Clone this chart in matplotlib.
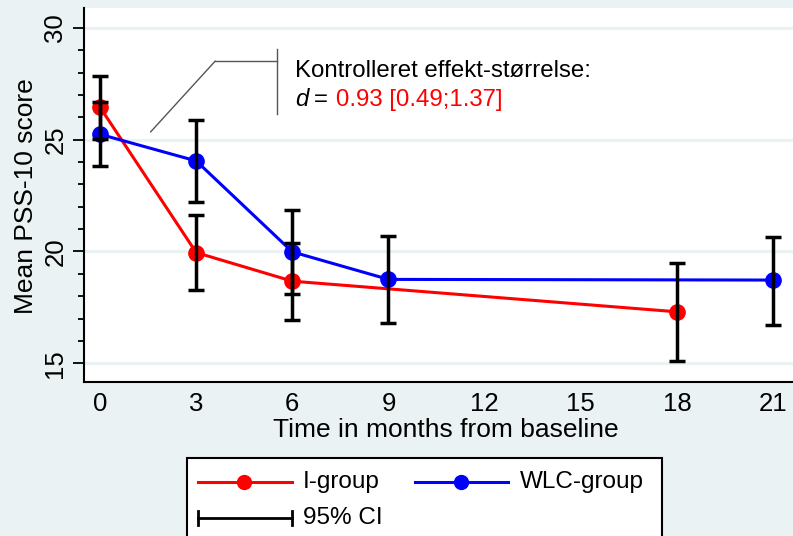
import matplotlib
matplotlib.use("Agg")
import matplotlib.pyplot as plt
from matplotlib.lines import Line2D
from matplotlib.patches import Rectangle

plt.rcParams['font.family'] = ['Liberation Sans', 'DejaVu Sans']

# ---- data ----
i_months = [0, 3, 6, 18]
i_mean = [26.45, 19.95, 18.67, 17.30]
i_lo = [25.03, 18.26, 16.93, 15.12]
i_hi = [27.87, 21.63, 20.37, 19.50]

w_months = [0, 3, 6, 9, 21]
w_mean = [25.24, 24.05, 19.98, 18.75, 18.72]
w_lo = [23.80, 22.20, 18.08, 16.78, 16.72]
w_hi = [26.67, 25.90, 21.87, 20.67, 20.65]

x_ticks = [0, 3, 6, 9, 12, 15, 18, 21]
y_ticks = [15, 20, 25, 30]
y_minor = list(range(15, 31))

RED = '#FF0000'
BLUE = '#0000FF'
BG = '#EAF2F3'

W, H = 793, 536
fig = plt.figure(figsize=(W / 100, H / 100), dpi=100, facecolor=BG)
ax = fig.add_axes([84 / W, (H - 382) / H, (W - 84) / W, (382 - 8) / H])
ax.set_facecolor('white')
ax.set_xlim(-0.5, 21.62)
ax.set_ylim(14.16, 30.89)

for s in ['top', 'right']:
    ax.spines[s].set_visible(False)
for s in ['left', 'bottom']:
    ax.spines[s].set_linewidth(1.5)
    ax.spines[s].set_color('black')

for yv in y_ticks:
    ax.axhline(yv, color=BG, lw=2.2, zorder=0.5)

ax.plot(i_months, i_mean, color=RED, lw=2.2, zorder=2)
ax.plot(w_months, w_mean, color=BLUE, lw=2.2, zorder=2)
ax.plot(i_months, i_mean, 'o', color=RED, ms=11, zorder=3)
ax.plot(w_months, w_mean, 'o', color=BLUE, ms=11, zorder=3)

def errs(m, lo, hi):
    return [[a - b for a, b in zip(m, lo)], [c - a for a, c in zip(m, hi)]]

for xs, m, lo, hi in [(i_months, i_mean, i_lo, i_hi), (w_months, w_mean, w_lo, w_hi)]:
    ax.errorbar(xs, m, yerr=errs(m, lo, hi), fmt='none', ecolor='black',
                elinewidth=2.5, capsize=5.8, capthick=2.5, zorder=4)

ax.set_xticks(x_ticks)
ax.set_xticklabels([str(v) for v in x_ticks], fontsize=18.5)
ax.tick_params(axis='x', length=0, pad=7)
ax.set_yticks(y_ticks)
ax.set_yticklabels([str(v) for v in y_ticks], fontsize=18.5, rotation=90, va='center')
ax.set_yticks(y_minor, minor=True)
ax.tick_params(axis='y', which='major', length=8, width=1.3, pad=4)
ax.tick_params(axis='y', which='minor', length=4.3, width=1.3)

ax.set_xlabel('Time in months from baseline', fontsize=19)
ax.xaxis.set_label_coords((445.5 - 84) / (W - 84), -0.095)
ax.set_ylabel('Mean PSS-10 score', fontsize=19)
ax.yaxis.set_label_coords(-(84 - 38) / (W - 84), (382 - 196.5) / (382 - 8))

# annotation callout
GRAY = '#555555'
ax.plot([5.51, 5.51], [26.17, 29.04], color=GRAY, lw=1, zorder=1)
ax.plot([3.59, 5.51], [28.51, 28.51], color=GRAY, lw=1, zorder=1)
ax.plot([1.58, 3.59], [25.35, 28.51], color=GRAY, lw=1, zorder=1)

ax.text(6.09, 28.08, 'Kontrolleret effekt-størrelse:', fontsize=17.3,
        ha='left', va='center', color='black')
td = ax.text(6.09, 26.78, 'd', fontsize=17.3, style='italic', ha='left',
             va='center', color='black')
te = ax.annotate('=', xy=(1, 0.5), xycoords=td, xytext=(4, 0),
                 textcoords='offset points', fontsize=17.3, ha='left', va='center')
ax.annotate('0.93 [0.49;1.37]', xy=(1, 0.5), xycoords=te, xytext=(6, 0),
            textcoords='offset points', fontsize=17.3, ha='left', va='center',
            color=RED)

# legend (manual, pixel coords)
lg = fig.add_axes([0, 0, 1, 1], zorder=10)
lg.set_xlim(0, W)
lg.set_ylim(H, 0)
lg.axis('off')
lg.patch.set_visible(False)
lg.add_patch(Rectangle((187, 457.7), 662 - 187, 120, facecolor='white',
                       edgecolor='black', lw=1.5, clip_on=False))
lg.plot([197.7, 291.7], [482, 482], color=RED, lw=2.2)
lg.plot([244], [482], 'o', color=RED, ms=10)
lg.text(303, 482, 'I-group', fontsize=17.5, va='center', ha='left')
lg.plot([415, 507.7], [482, 482], color=BLUE, lw=2.2)
lg.plot([461], [482], 'o', color=BLUE, ms=10)
lg.text(520, 482, 'WLC-group', fontsize=17.5, va='center', ha='left')
lg.plot([197.7, 291.7], [517.7, 517.7], color='black', lw=2)
lg.plot([197.7, 197.7], [510.5, 525], color='black', lw=2)
lg.plot([291.7, 291.7], [510.5, 525], color='black', lw=2)
lg.text(303, 517.7, '95% CI', fontsize=17.5, va='center', ha='left')

fig.savefig('out.png', dpi=100, facecolor=BG)
